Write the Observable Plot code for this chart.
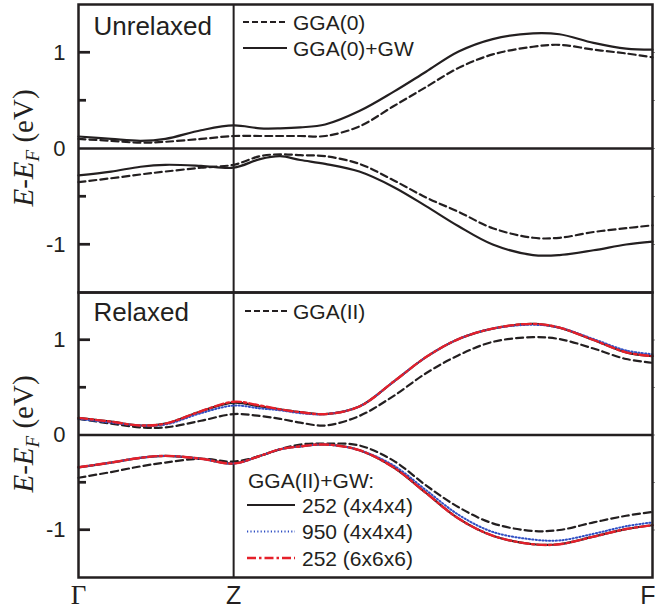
<!DOCTYPE html>
<html><head><meta charset="utf-8">
<script src="https://cdn.jsdelivr.net/npm/d3@7"></script>
<script src="https://cdn.jsdelivr.net/npm/@observablehq/plot@0.6"></script>
<style>
body{margin:0;background:#fff}
#chart{position:relative;width:655px;height:610px;overflow:hidden}
#chart svg{display:block}
</style>
</head><body><div id="chart"></div>
<script>
// ---------- data (k along Γ–Z–F path, energies in eV relative to E_F) ----------
const kPoints = [0, 0.21, 0.40, 0.56, 0.79, 1.0, 1.17, 1.30, 1.43, 1.59, 1.81, 2.03, 2.24, 2.45, 2.67, 2.93, 3.10, 3.32, 3.53, 3.70];
const kTicks = [0, 1, 3.70];
const kTickLabels = ["Γ", "Z", "F"];
const yTicks = [-1, 0, 1];
const yMinorTicks = [-0.5, 0.5];
const panelLabels = ["Unrelaxed", "Relaxed"];

// Unrelaxed panel
const unrelaxedGGA_cb = [0.10, 0.08, 0.06, 0.07, 0.10, 0.13, 0.13, 0.13, 0.13, 0.13, 0.23, 0.44, 0.64, 0.84, 0.98, 1.06, 1.08, 1.03, 0.99, 0.95];
const unrelaxedGGA_vb = [-0.35, -0.31, -0.27, -0.24, -0.20, -0.17, -0.08, -0.06, -0.07, -0.08, -0.16, -0.33, -0.51, -0.66, -0.83, -0.93, -0.93, -0.87, -0.83, -0.80];
const unrelaxedGW_cb = [0.125, 0.10, 0.08, 0.10, 0.19, 0.24, 0.21, 0.21, 0.22, 0.25, 0.39, 0.59, 0.80, 1.01, 1.14, 1.20, 1.19, 1.10, 1.04, 1.03];
const unrelaxedGW_vb = [-0.28, -0.24, -0.19, -0.17, -0.18, -0.20, -0.11, -0.08, -0.12, -0.16, -0.24, -0.40, -0.60, -0.81, -1.00, -1.11, -1.11, -1.06, -1.00, -0.97];

// Relaxed panel
const relaxedGGA_cb = [0.17, 0.12, 0.08, 0.08, 0.15, 0.22, 0.20, 0.17, 0.13, 0.10, 0.20, 0.41, 0.65, 0.84, 0.98, 1.03, 1.01, 0.91, 0.80, 0.76];
const relaxedGGA_vb = [-0.45, -0.39, -0.33, -0.29, -0.25, -0.28, -0.22, -0.15, -0.10, -0.09, -0.11, -0.27, -0.53, -0.76, -0.93, -1.01, -1.00, -0.92, -0.85, -0.81];
const relaxed252_444_cb = [0.18, 0.14, 0.10, 0.12, 0.25, 0.34, 0.30, 0.27, 0.24, 0.22, 0.30, 0.56, 0.82, 1.01, 1.12, 1.17, 1.13, 1.00, 0.87, 0.83];
const relaxed252_444_vb = [-0.34, -0.29, -0.24, -0.22, -0.25, -0.30, -0.22, -0.15, -0.12, -0.10, -0.16, -0.34, -0.61, -0.88, -1.06, -1.15, -1.15, -1.07, -0.99, -0.95];
const relaxed950_444_cb = [0.17, 0.13, 0.10, 0.11, 0.23, 0.31, 0.28, 0.26, 0.23, 0.22, 0.30, 0.56, 0.82, 1.01, 1.12, 1.16, 1.13, 1.01, 0.89, 0.85];
const relaxed950_444_vb = [-0.34, -0.29, -0.24, -0.22, -0.25, -0.30, -0.22, -0.15, -0.12, -0.10, -0.16, -0.32, -0.58, -0.84, -1.02, -1.10, -1.11, -1.04, -0.96, -0.92];
const relaxed252_666_cb = [0.18, 0.14, 0.10, 0.12, 0.25, 0.35, 0.31, 0.27, 0.24, 0.22, 0.30, 0.56, 0.82, 1.01, 1.12, 1.17, 1.13, 1.00, 0.87, 0.83];
const relaxed252_666_vb = [-0.34, -0.29, -0.24, -0.22, -0.25, -0.30, -0.22, -0.15, -0.12, -0.10, -0.16, -0.34, -0.61, -0.88, -1.06, -1.15, -1.15, -1.07, -0.99, -0.95];

const legendTopLabels = ["GGA(0)", "GGA(0)+GW"];
const legendRelaxedGGA = "GGA(II)";
const legendRelaxedHead = "GGA(II)+GW:";
const legendRelaxedLabels = ["252 (4x4x4)", "950 (4x4x4)", "252 (6x6x6)"];

// ---------- styles ----------
const ink = "#231f20";
const sans = "'Liberation Sans', Arial, Helvetica, sans-serif";
const serif = "'Liberation Serif', 'Times New Roman', serif";
const styleDashed = {stroke: ink, strokeWidth: 2.2, strokeDasharray: "7,4"};
const styleDashedLegend = {stroke: ink, strokeWidth: 2.2, strokeDasharray: "6,3"};
const styleSolid = {stroke: ink, strokeWidth: 2.2};
const styleDotted = {stroke: "#2f4fc4", strokeWidth: 2, strokeDasharray: "1.2,2.2"};
const styleDashDot = {stroke: "#e5202a", strokeWidth: 2.4, strokeDasharray: "9,3,2.5,3"};

function bands(cb, vb) {
  return [
    ...kPoints.map((k, i) => ({k, E: cb[i], band: "cb"})),
    ...kPoints.map((k, i) => ({k, E: vb[i], band: "vb"}))
  ];
}

const W = 655, mL = 78, mR = 3;

function panel({height, marginTop, marginBottom, series, label, labelDy, xLabels}) {
  const marks = [
    Plot.ruleY([0], {stroke: ink, strokeWidth: 2.5}),
    Plot.ruleX([kTicks[1]], {stroke: ink, strokeWidth: 2}),
    ...series.map(s => Plot.line(bands(s.cb, s.vb), {x: "k", y: "E", z: "band", curve: "catmull-rom", ...s.style})),
    Plot.axisY({ticks: yTicks, tickSize: 0, tickPadding: 13, fontSize: 22, label: null, tickFormat: d => String(d)}),
    // inward ticks (negative tick size points into the frame)
    Plot.axisY({ticks: yTicks.filter(d => d !== 0), tickSize: -12, strokeWidth: 2.2, stroke: ink, tickFormat: () => "", label: null}),
    Plot.axisY({ticks: yMinorTicks, tickSize: -8, strokeWidth: 2.2, stroke: ink, tickFormat: () => "", label: null}),
    Plot.axisY({anchor: "right", ticks: [...yTicks, ...yMinorTicks], tickSize: 3, tickFormat: () => "", label: null, stroke: "#888"}),
    Plot.frame({stroke: ink, strokeWidth: 2.5}),
    Plot.text([label], {frameAnchor: "top-left", dx: 15, dy: labelDy, lineAnchor: "top", textAnchor: "start", fontSize: 26, fill: ink})
  ];
  if (xLabels) {
    const xl = kTicks.map((k, i) => ({k, t: kTickLabels[i]}));
    marks.push(Plot.text(xl.slice(0, 1), {x: "k", text: "t", frameAnchor: "bottom", dy: 18, lineAnchor: "middle", fontSize: 27, fontFamily: serif, fill: ink}));
    marks.push(Plot.text(xl.slice(1, 2), {x: "k", text: "t", frameAnchor: "bottom", dy: 18, lineAnchor: "middle", fontSize: 25, fill: ink}));
    marks.push(Plot.text(xl.slice(2, 3), {x: "k", text: "t", frameAnchor: "bottom", dy: 18, dx: 3, textAnchor: "end", lineAnchor: "middle", fontSize: 25, fill: ink}));
  }
  return Plot.plot({
    width: W, height, marginTop, marginBottom, marginLeft: mL, marginRight: mR,
    x: {domain: [kTicks[0], kTicks[2]], axis: null},
    y: {domain: [-1.5, 1.5]},
    style: {fontFamily: sans, color: ink, background: "white", overflow: "visible"},
    marks
  });
}

// inward tick marks on the left frame, positioned with the plot's own y scale
function addInnerTicks(svg) {
  const y = svg.scale("y");
  const g = d3.select(svg).append("g");
  const draw = (v, len) => {
    const py = y.apply(v);
    g.append("path").attr("d", `M${mL},${py}H${mL + len}`)
      .attr("stroke", ink).attr("stroke-width", 2.2).attr("fill", "none");
  };
  yTicks.filter(d => d !== 0).forEach(v => draw(v, 12));
  yMinorTicks.forEach(v => draw(v, 8));
}

function addYLabel(svg, cy) {
  const t = d3.select(svg).append("text")
    .attr("transform", `translate(33,${cy}) rotate(-90)`)
    .attr("text-anchor", "middle")
    .attr("font-family", serif)
    .attr("font-size", 29)
    .attr("fill", ink);
  t.append("tspan").attr("font-style", "italic").text("E");
  t.append("tspan").text("-");
  t.append("tspan").attr("font-style", "italic").text("E");
  t.append("tspan").attr("font-style", "italic").attr("font-size", 19).attr("dy", 6).text("F");
  t.append("tspan").attr("dy", -6).text(" (eV)");
}

function addLegendRow(svg, {x1, x2, y, style, text, tx}) {
  const g = d3.select(svg).append("g");
  g.append("line").attr("x1", x1).attr("x2", x2).attr("y1", y).attr("y2", y)
    .attr("stroke", style.stroke).attr("stroke-width", style.strokeWidth)
    .attr("stroke-dasharray", style.strokeDasharray || null);
  g.append("text").attr("x", tx).attr("y", y).attr("dy", "0.36em").attr("text-anchor", "start")
    .attr("font-family", sans).attr("font-size", 21).attr("fill", ink).text(text);
}

const chart = document.getElementById("chart");

const topPanel = panel({
  height: 292, marginTop: 4, marginBottom: 0, label: panelLabels[0], labelDy: 12.5,
  series: [
    {cb: unrelaxedGGA_cb, vb: unrelaxedGGA_vb, style: styleDashed},
    {cb: unrelaxedGW_cb, vb: unrelaxedGW_vb, style: styleSolid}
  ]
});
chart.appendChild(topPanel);
addInnerTicks(topPanel);
addYLabel(topPanel, 148);
addLegendRow(topPanel, {x1: 243, x2: 287, y: 22, style: styleDashedLegend, text: legendTopLabels[0], tx: 293});
addLegendRow(topPanel, {x1: 243, x2: 287, y: 48, style: styleSolid, text: legendTopLabels[1], tx: 293});

const bottomPanel = panel({
  height: 318, marginTop: 0, marginBottom: 33, label: panelLabels[1], labelDy: 10.5, xLabels: true,
  series: [
    {cb: relaxedGGA_cb, vb: relaxedGGA_vb, style: styleDashed},
    {cb: relaxed252_444_cb, vb: relaxed252_444_vb, style: styleSolid},
    {cb: relaxed950_444_cb, vb: relaxed950_444_vb, style: styleDotted},
    {cb: relaxed252_666_cb, vb: relaxed252_666_vb, style: styleDashDot}
  ]
});
chart.appendChild(bottomPanel);
addInnerTicks(bottomPanel);
addYLabel(bottomPanel, 142);
addLegendRow(bottomPanel, {x1: 245, x2: 287, y: 19, style: styleDashedLegend, text: legendRelaxedGGA, tx: 293});
d3.select(bottomPanel).append("text").attr("x", 248).attr("y", 188).attr("dy", "0.36em").attr("text-anchor", "start")
  .attr("font-family", sans).attr("font-size", 21).attr("fill", ink).text(legendRelaxedHead);
[styleSolid, styleDotted, styleDashDot].forEach((s, i) => {
  addLegendRow(bottomPanel, {x1: 247, x2: 295, y: 213 + i * 26.5, style: s, text: legendRelaxedLabels[i], tx: 302});
});
</script>
</body></html>
